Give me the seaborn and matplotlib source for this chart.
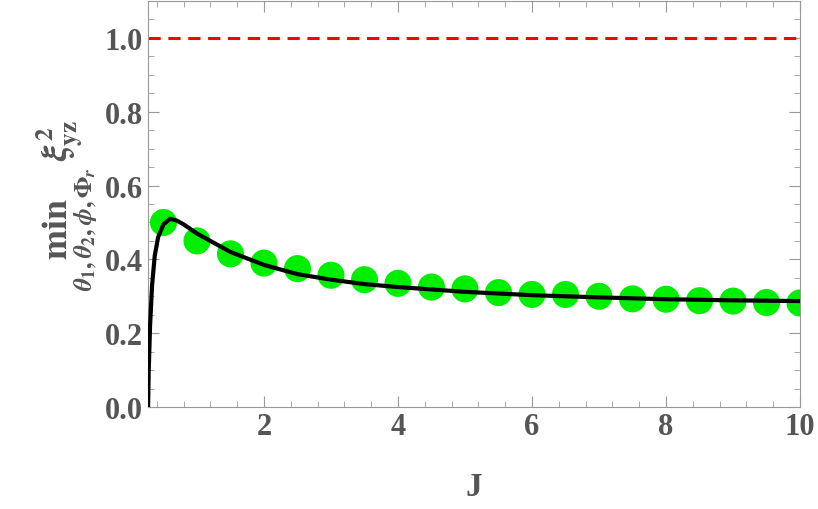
import matplotlib
matplotlib.use("Agg")
import matplotlib.pyplot as plt
import seaborn as sns
import pandas as pd
from matplotlib.ticker import MultipleLocator

J_pts = [0.5,1,1.5,2,2.5,3,3.5,4,4.5,5,5.5,6,6.5,7,7.5,8,8.5,9,9.5,10]
xi_pts = [0.50,0.45,0.415,0.39,0.375,0.357,0.345,0.335,0.325,0.32,0.31,0.305,0.305,0.30,0.293,0.292,0.288,0.287,0.283,0.282]
J_curve = [0.27,0.28,0.30,0.33,0.37,0.42,0.50,0.60,0.70,0.80,1.0,1.5,2,2.5,3,3.5,4,5,6,7,8,9,10]
xi_curve = [0.0,0.10,0.22,0.33,0.41,0.46,0.495,0.51,0.505,0.495,0.47,0.42,0.385,0.36,0.345,0.333,0.325,0.312,0.303,0.297,0.292,0.289,0.287]

plt.rcParams.update({"font.family":"Liberation Serif","font.weight":"bold","mathtext.fontset":"stix"})
gray = "#555555"
fig, ax = plt.subplots(figsize=(8.18,5.10), dpi=100)
fig.subplots_adjust(left=0.181, right=0.978, top=0.996, bottom=0.2)
ax.axhline(1.0, color="red", ls=(0,(4,2.5)), lw=2.2)
sns.scatterplot(x=J_pts, y=xi_pts, ax=ax, color="#00ee00", s=380, edgecolor="none", zorder=2)
sns.lineplot(x=J_curve, y=xi_curve, ax=ax, color="black", lw=3, zorder=3)
ax.set_xlim(0.27,10)
ax.set_ylim(0,1.1)
ax.xaxis.set_major_locator(MultipleLocator(2)); ax.xaxis.set_minor_locator(MultipleLocator(0.4))
ax.yaxis.set_major_locator(MultipleLocator(0.2)); ax.yaxis.set_minor_locator(MultipleLocator(0.05))
ax.tick_params(which="both", direction="in", top=True, right=True, colors="#999999", labelcolor=gray, labelsize=22)
ax.tick_params(which="major", length=8); ax.tick_params(which="minor", length=4)
ax.yaxis.set_major_formatter(matplotlib.ticker.FormatStrFormatter("%.1f"))
for s in ax.spines.values(): s.set_color("#999999")
ax.set_xlabel("J", fontsize=24, color=gray, fontweight="bold", labelpad=22)
ax.set_ylabel(r"$\underset{\theta_1,\theta_2,\phi,\Phi_r}{\mathbf{min}}\;\xi^2_{\mathbf{yz}}$", fontsize=26, color=gray, labelpad=4)
fig.savefig("out.png", dpi=100)
